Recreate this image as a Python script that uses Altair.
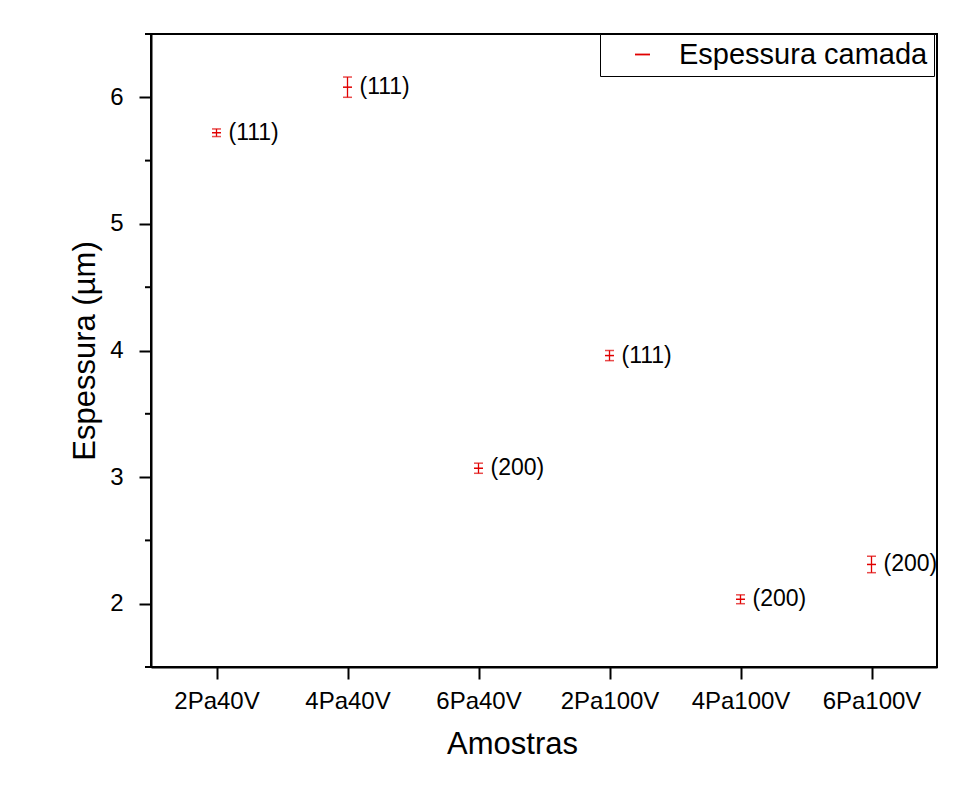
import altair as alt
import pandas as pd

categories = ["2Pa40V", "4Pa40V", "6Pa40V", "2Pa100V", "4Pa100V", "6Pa100V"]
values = [5.72, 6.08, 3.07, 3.96, 2.035, 2.31]
errors = [0.03, 0.08, 0.04, 0.04, 0.035, 0.065]
labels = ["(111)", "(111)", "(200)", "(111)", "(200)", "(200)"]
series = "Espessura camada"
minor_ticks = [1.5, 2.5, 3.5, 4.5, 5.5, 6.5]

df = pd.DataFrame({
    "cat": categories,
    "val": values,
    "lo": [v - e for v, e in zip(values, errors)],
    "hi": [v + e for v, e in zip(values, errors)],
    "lab": labels,
    "series": [series] * len(categories),
})
minor_df = pd.DataFrame({"m": minor_ticks})

RED = "#e00000"
FONT = "Liberation Sans"

x_enc = alt.X("cat:N", sort=categories,
              scale=alt.Scale(type="point", padding=0.5),
              axis=alt.Axis(title="Amostras", labelAngle=0, titleX=361))
y_scale = alt.Scale(domain=[1.5, 6.5], nice=False, zero=False)
y_enc = alt.Y("val:Q", scale=y_scale,
              axis=alt.Axis(title="Espessura (µm)", values=[2, 3, 4, 5, 6], format="d"))

base = alt.Chart(df)

rule = base.mark_rule(color=RED, strokeWidth=1.3).encode(
    x=x_enc, y=alt.Y("lo:Q", scale=y_scale), y2="hi:Q")
cap_lo = base.mark_tick(color=RED, thickness=1.5, size=9).encode(
    x=x_enc, y=alt.Y("lo:Q", scale=y_scale))
cap_hi = base.mark_tick(color=RED, thickness=1.5, size=9).encode(
    x=x_enc, y=alt.Y("hi:Q", scale=y_scale))
center = base.mark_tick(thickness=1.5, size=9, opacity=1).encode(
    x=x_enc, y=y_enc,
    color=alt.Color("series:N", scale=alt.Scale(range=[RED]),
                    legend=alt.Legend(title=None, orient="none",
                                      legendX=449, legendY=0,
                                      symbolType="M-1,0L1,0",
                                      symbolSize=225,
                                      symbolStrokeWidth=1.8,
                                      symbolStrokeColor=RED,
                                      symbolOpacity=1,
                                      symbolOffset=22,
                                      labelOffset=22,
                                      labelFontSize=29,
                                      labelFont=FONT,
                                      labelColor="black",
                                      labelLimit=0,
                                      padding=6,
                                      strokeColor="black",
                                      fillColor="white")))
text = base.mark_text(align="left", baseline="middle", dx=12,
                      fontSize=23, font=FONT, color="black").encode(
    x=x_enc, y=alt.Y("val:Q", scale=y_scale), text="lab:N")
minor = alt.Chart(minor_df).mark_rule(color="black", strokeWidth=2, clip=False).encode(
    y=alt.Y("m:Q", scale=y_scale), x=alt.value(-6), x2=alt.value(0))

chart = alt.layer(rule, cap_lo, cap_hi, center, text, minor).properties(
    width=786, height=633,
    autosize=alt.AutoSizeParams(type="none"),
    padding={"left": 143, "top": 26, "right": 20, "bottom": 110},
).configure_view(stroke="black", strokeWidth=2).configure_axis(
    grid=False, domainColor="black", domainWidth=2, tickColor="black",
    tickWidth=2, tickSize=12, labelFont=FONT, titleFont=FONT,
    labelFontSize=24, titleFontSize=31, labelColor="black", titleColor="black",
    titleFontWeight="normal",
).configure_axisY(labelPadding=16, titlePadding=8).configure_axisX(
    labelPadding=10, titlePadding=16)

chart.save("out.html", embed_options={"renderer": "svg", "actions": False})
